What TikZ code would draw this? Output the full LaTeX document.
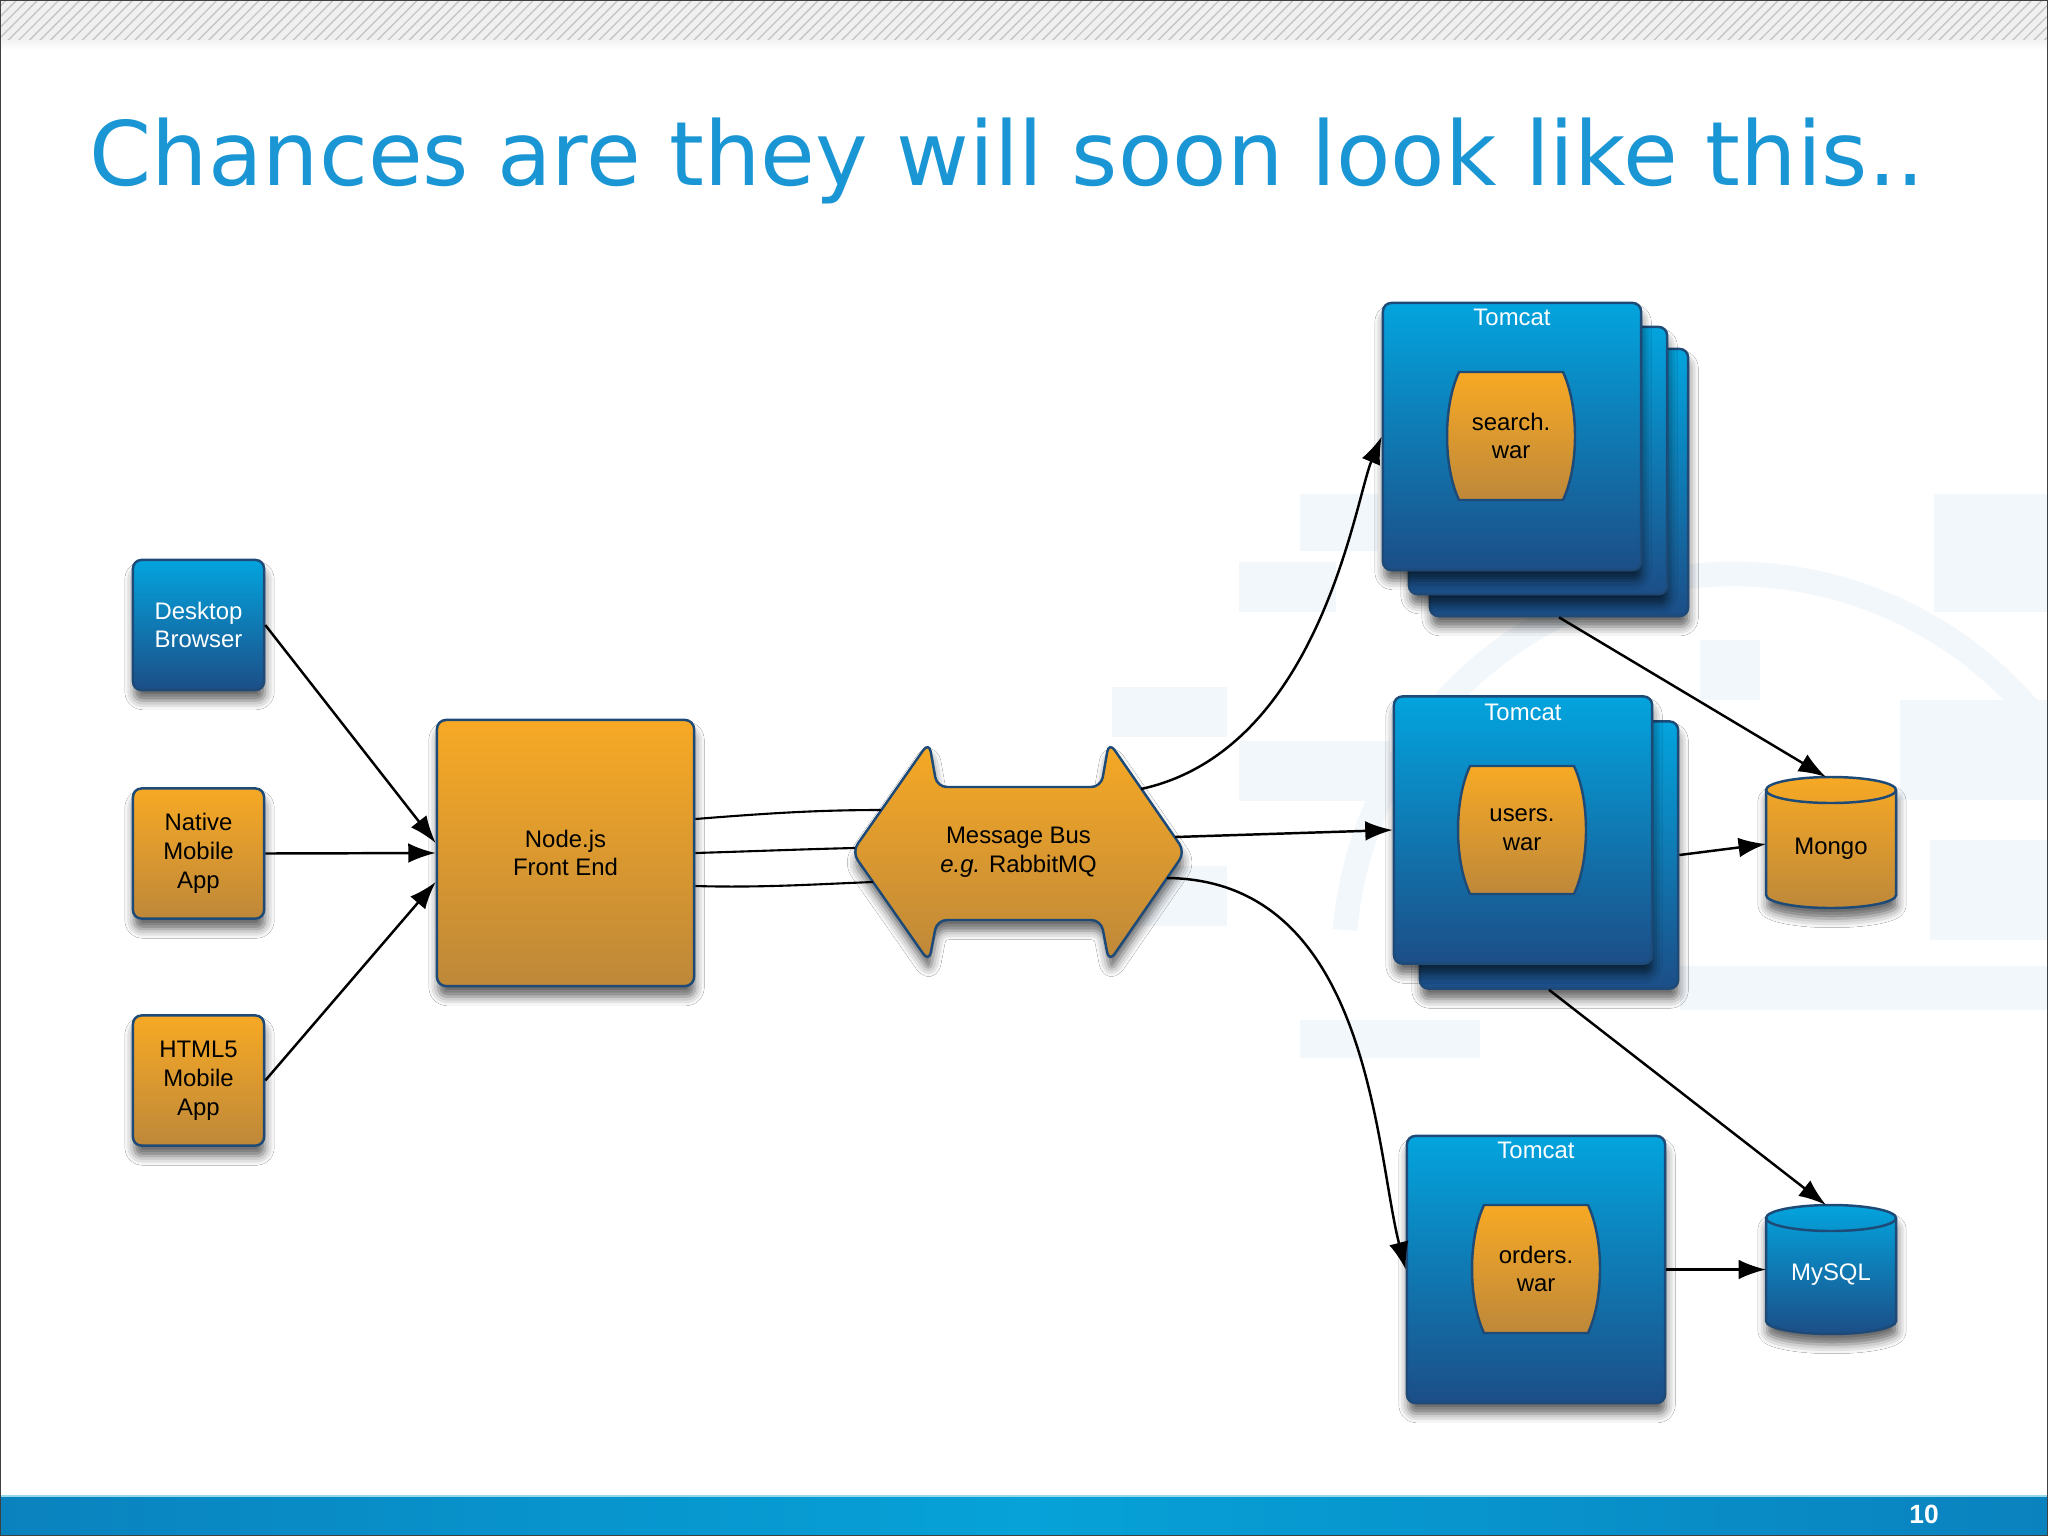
\documentclass[tikz,border=0pt]{standalone}
\usepackage{fontspec}
\setmainfont{Liberation Sans}
\newfontfamily\titlefont{DejaVu Sans}
\usetikzlibrary{arrows.meta,calc,shadows.blur,patterns}
\definecolor{bluetop}{RGB}{3,164,222}
\definecolor{bluebot}{RGB}{28,78,135}
\definecolor{orangetop}{RGB}{247,169,36}
\definecolor{orangebot}{RGB}{190,136,58}
\definecolor{edgeblue}{RGB}{30,74,120}
\definecolor{titleblue}{RGB}{26,150,212}
\definecolor{bgpale}{RGB}{242,247,252}
\definecolor{barmid}{RGB}{6,162,216}
\definecolor{baredge}{RGB}{10,130,190}
\definecolor{barline}{RGB}{150,215,235}
\newcommand{\warcap}[4]{%
  \path[orangefill] ({#2-52},{#3+64}) -- ({#2+52},{#3+64})
     .. controls ({#2+68},{#3+30}) and ({#2+68},{#3-30}) .. ({#2+52},{#3-64})
     -- ({#2-52},{#3-64})
     .. controls ({#2-68},{#3-30}) and ({#2-68},{#3+30}) .. ({#2-52},{#3+64}) -- cycle;
  \node[lbl] (#1) at (#2,#3) {#4};}
\begin{document}
\begin{tikzpicture}[x=0.01cm,y=0.01cm,
  sh/.style={blur shadow={shadow xshift=0.3pt,shadow yshift=-3pt,shadow blur radius=2.6pt,shadow opacity=60}},
  bluefill/.style={top color=bluetop,bottom color=bluebot,draw=edgeblue,line width=0.7pt},
  orangefill/.style={top color=orangetop,bottom color=orangebot,draw=edgeblue,line width=0.7pt},
  lbl/.style={font=\fontsize{6.8}{8.2}\selectfont,align=center,inner sep=0pt},
  client/.style={rectangle,rounded corners=2.4pt,minimum width=1.31cm,minimum height=1.30cm,sh,lbl},
  tomcatbox/.style={rectangle,rounded corners=2.4pt,minimum width=2.58cm,minimum height=2.67cm,bluefill,sh},
  tclabel/.style={lbl,text=white},
  conn/.style={draw=black,line width=0.7pt,-{Latex[length=7.8pt,width=5.6pt,fill=black]}},
  link/.style={line width=0.6pt},
  bgblock/.style={fill=bgpale,draw=none},
]
\useasboundingbox (0,0) rectangle (2048,-1536);
\fill[white] (0,0) rectangle (2048,-1536);
% top hatched stripe
\fill[gray!12] (0,0) rectangle (2048,-40);
\fill[pattern=north east lines,pattern color=gray!45] (0,0) rectangle (2048,-40);
\shade[top color=gray!10,bottom color=white] (0,-40) rectangle (2048,-50);
% faint background logo
\fill[bgblock] (1300,-494) rectangle (1378,-551);
\fill[bgblock] (1239,-562) rectangle (1336,-612);
\fill[bgblock] (1112,-687) rectangle (1227,-737);
\fill[bgblock] (1239,-741) rectangle (1390,-801);
\fill[bgblock] (1112,-866) rectangle (1227,-926);
\fill[bgblock] (1934,-494) rectangle (2048,-612);
\fill[bgblock] (1700,-640) rectangle (1760,-700);
\fill[bgblock] (1900,-700) rectangle (2048,-800);
\fill[bgblock] (1930,-840) rectangle (2048,-940);
\fill[bgblock] (1680,-966) rectangle (2048,-1010);
\fill[bgblock] (1300,-1020) rectangle (1480,-1058);
\draw[bgpale,line width=7pt] (1345,-930) arc[start angle=175,end angle=20,radius=390];
% bottom bar
\shade[left color=baredge,right color=baredge,middle color=barmid] (0,-1496) rectangle (2048,-1536);
\draw[barline,line width=0.8pt] (0,-1496) -- (2048,-1496);
\node[font=\fontsize{7.5}{9}\selectfont\bfseries,text=white,inner sep=0pt] (pgnum) at (1924,-1514) {10};
% title
\node[anchor=base west,inner sep=0pt,text=titleblue] (title) at (89,-185)
  {\resizebox{18.34cm}{!}{\titlefont Chances are they will soon look like this..}};
% clients
\node[client,bluefill,text=white] (desktop) at (198.5,-625) {Desktop\\Browser};
\node[client,orangefill] (native) at (198.5,-853.5) {Native\\Mobile\\App};
\node[client,orangefill] (html5) at (198.5,-1080.5) {HTML5\\Mobile\\App};
% node.js
\node[rectangle,rounded corners=2.6pt,minimum width=2.57cm,minimum height=2.66cm,orangefill,sh,lbl] (nodejs) at (565.5,-853) {Node.js\\Front End};
% message bus
\path[orangefill,sh,rounded corners=2.8pt] (852,-852) -- (929,-742) -- (937,-787) -- (1101,-787) -- (1109,-742) -- (1185,-852) -- (1109,-962) -- (1101,-920) -- (937,-920) -- (929,-962) -- cycle;
\node[lbl] (bus) at (1018.5,-852) {Message Bus\\\textit{e.g.} RabbitMQ};
\coordinate (busL1) at (881,-810);
\coordinate (busL2) at (855,-848);
\coordinate (busL3) at (873,-882);
\coordinate (busR1) at (1141,-789);
\coordinate (busR2) at (1175,-837);
\coordinate (busR3) at (1167,-878);
% search tomcat stack
\node[tomcatbox] (search3) at (1559,-482.5) {};
\node[tomcatbox] (search2) at (1538,-460.5) {};
\node[tomcatbox] (search) at (1512,-436.5) {};
\node[tclabel] (searchtc) at (1512,-317) {Tomcat};
\warcap{searchwar}{1511}{-436}{search.\\war}
% users tomcat stack
\node[tomcatbox] (users2) at (1549,-855) {};
\node[tomcatbox] (users) at (1523,-830) {};
\node[tclabel] (userstc) at (1523,-712) {Tomcat};
\warcap{userswar}{1522}{-830}{users.\\war}
% orders tomcat
\node[tomcatbox] (orders) at (1536,-1269.5) {};
\node[tclabel] (orderstc) at (1536,-1150) {Tomcat};
\warcap{orderswar}{1536}{-1269}{orders.\\war}
% Mongo
\path[orangefill,sh] (1766,-790) -- (1766,-895) arc[start angle=180,end angle=360,x radius=65,y radius=13] -- (1896,-790) arc[start angle=0,end angle=180,x radius=65,y radius=13] -- cycle;
\draw[edgeblue,line width=0.7pt] (1766,-790) arc[start angle=180,end angle=360,x radius=65,y radius=13];
\node[lbl] (mongo) at (1831,-849) {Mongo};
\coordinate (mongoT) at (1826,-777);
\coordinate (mongoL) at (1766,-844);
% MySQL
\path[bluefill,sh] (1766,-1218) -- (1766,-1321) arc[start angle=180,end angle=360,x radius=65,y radius=13] -- (1896,-1218) arc[start angle=0,end angle=180,x radius=65,y radius=13] -- cycle;
\draw[edgeblue,line width=0.7pt] (1766,-1218) arc[start angle=180,end angle=360,x radius=65,y radius=13];
\node[lbl,text=white] (mysql) at (1831,-1275) {MySQL};
\coordinate (mysqlT) at (1826,-1205);
\coordinate (mysqlL) at (1766,-1269.5);
% connectors
\draw[conn] (desktop.east) -- ($(nodejs.west)+(0,10)$);
\draw[conn] (native.east) -- (nodejs.west);
\draw[conn] (html5.east) -- ($(nodejs.west)+(0,-29)$);
\draw[link] ($(nodejs.east)+(0,34)$) .. controls (770,-813) and (820,-810) .. (busL1);
\draw[link] (nodejs.east) .. controls (760,-851) and (810,-849) .. (busL2);
\draw[link] ($(nodejs.east)+(0,-33)$) .. controls (760,-888) and (820,-884) .. (busL3);
\draw[conn] (busR1) .. controls (1320,-750) and (1355,-500) .. (search.west);
\draw[conn] (busR2) -- (users.west);
\draw[conn] (busR3) .. controls (1370,-880) and (1375,-1150) .. (orders.west);
\draw[conn] (search3.south) -- (mongoT);
\draw[conn] (users2.east) -- (mongoL);
\draw[conn] (users2.south) -- (mysqlT);
\draw[conn] (orders.east) -- (mysqlL);
% frame
\draw[gray!50!black,line width=0.8pt] (0,0) rectangle (2048,-1536);
\end{tikzpicture}
\end{document}
